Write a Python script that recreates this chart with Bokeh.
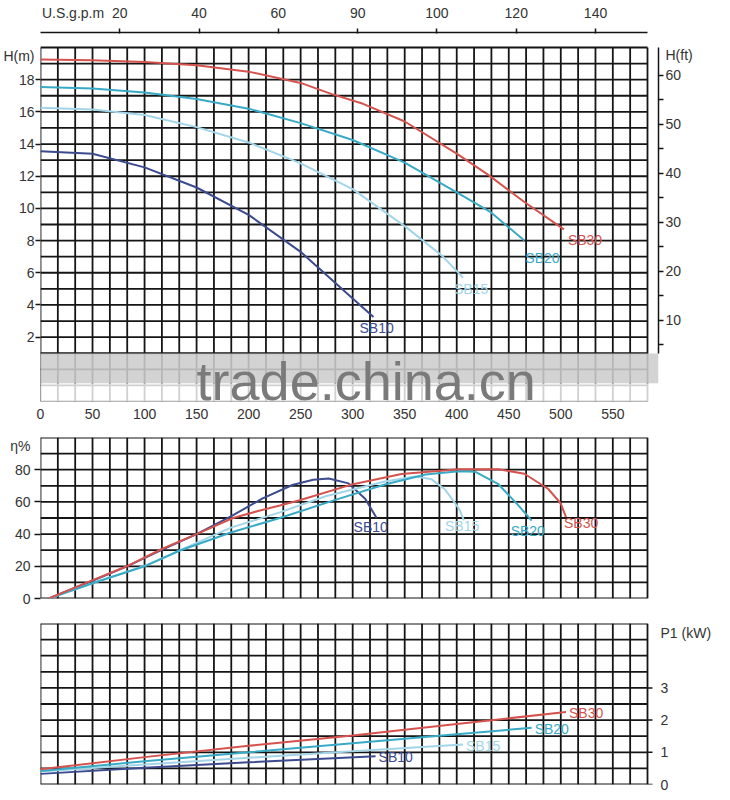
from bokeh.core.properties import value
from bokeh.embed import file_html
from bokeh.layouts import column
from bokeh.models import FixedTicker, Label, LinearAxis, Range1d
from bokeh.plotting import figure
from bokeh.resources import INLINE

FONT = "Liberation Sans"
GRID = "#151515"
TEXT = "#333333"

models = ["SB10", "SB15", "SB20", "SB30"]
colors = ["#3c4a8e", "#a3d5e9", "#38aac6", "#d4534e"]

# head H (m) against flow Q (l/min)
sb10_h_q = [0, 50, 100, 150, 200, 250, 300, 320]
sb10_h = [13.55, 13.4, 12.55, 11.3, 9.6, 7.3, 4.4, 3.25]
sb15_h_q = [0, 50, 100, 150, 200, 250, 300, 350, 386, 406]
sb15_h = [16.25, 16.15, 15.8, 15.05, 14.1, 12.8, 11.2, 8.9, 7.05, 5.7]
sb20_h_q = [0, 50, 100, 150, 200, 250, 300, 350, 400, 433, 465]
sb20_h = [17.55, 17.45, 17.2, 16.8, 16.2, 15.3, 14.25, 12.85, 11.0, 9.75, 8.0]
sb30_h_q = [0, 50, 100, 150, 200, 250, 280, 310, 350, 400, 430, 465, 503]
sb30_h = [19.25, 19.2, 19.1, 18.9, 18.5, 17.8, 17.1, 16.5, 15.4, 13.4, 12.1, 10.4, 8.7]

# efficiency (%)
sb10_eff_q = [8, 50, 83, 116, 150, 183, 213, 242, 262, 277, 296, 312, 323]
sb10_eff = [0, 11, 20, 30, 40, 51, 62, 70.5, 73.8, 74.5, 71.5, 62, 50]
sb15_eff_q = [8, 50, 99, 150, 183, 230, 274, 331, 360, 376, 389, 402, 407]
sb15_eff = [0, 9.5, 20, 34.6, 44, 53.5, 63.5, 72.7, 75.8, 74, 67.5, 56, 48.5]
sb20_eff_q = [8, 50, 100, 134, 183, 230, 284, 331, 370, 402, 418, 440, 459, 472]
sb20_eff = [0, 9.5, 20, 29.8, 41, 50, 61.4, 70.8, 77, 79, 78.7, 71, 58, 48.4]
sb30_eff_q = [8, 45, 83, 116, 150, 185, 210, 230, 249, 298, 347, 402, 440, 465, 488, 500, 505]
sb30_eff = [0, 10, 20, 30.6, 40, 50, 54.5, 57.8, 61, 70.6, 77.3, 80.3, 80.3, 77.5, 68, 59, 50.5]

# input power P1 (kW)
sb10_p_q = [0, 100, 200, 322]
sb10_p = [0.33, 0.52, 0.69, 0.88]
sb15_p_q = [0, 100, 200, 300, 406]
sb15_p = [0.4, 0.62, 0.83, 1.03, 1.24]
sb20_p_q = [0, 100, 200, 300, 400, 472]
sb20_p = [0.42, 0.72, 1.0, 1.28, 1.56, 1.76]
sb30_p_q = [0, 100, 200, 300, 400, 505]
sb30_p = [0.47, 0.85, 1.2, 1.52, 1.88, 2.25]

q_ticks = [0, 50, 100, 150, 200, 250, 300, 350, 400, 450, 500, 550]
gpm_ticks = [20, 40, 60, 80, 100, 120, 140]
gpm_labels = {80: "90"}
h_ticks = [2, 4, 6, 8, 10, 12, 14, 16, 18]
ft_ticks = [10, 20, 30, 40, 50, 60]
ft_minor = [5, 10, 15, 20, 25, 30, 35, 40, 45, 50, 55, 60]
eff_ticks = [0, 20, 40, 60, 80]
p_ticks = [0, 1, 2, 3]

# unit captions, written as labels on their axes
gpm_title, gpm_title_at = "U.S.g.p.m", 8.2
h_title, h_title_at = "H(m)", 19.5
ft_title, ft_title_at = "H(ft)", 64.0
eff_title, eff_title_at = "η%", 95
p_title, p_title_at = "P1 (kW)", 4.7

LPM_PER_GPM = 3.81
FT_PER_M = 3.281
Q_STEP = 50 / 3
Q_CELLS = 35
Q_END = Q_STEP * Q_CELLS
GRID_W = 607
FRAME_W = 618
X_END = Q_END * FRAME_W / GRID_W
PX = Q_END / GRID_W  # l/min per pixel

head = [(sb10_h_q, sb10_h), (sb15_h_q, sb15_h), (sb20_h_q, sb20_h), (sb30_h_q, sb30_h)]
eff = [(sb10_eff_q, sb10_eff), (sb15_eff_q, sb15_eff), (sb20_eff_q, sb20_eff), (sb30_eff_q, sb30_eff)]
power = [(sb10_p_q, sb10_p), (sb15_p_q, sb15_p), (sb20_p_q, sb20_p), (sb30_p_q, sb30_p)]


def make_fig(height, y0, y1, top, bottom, **kw):
    p = figure(width=730, height=height, x_range=Range1d(0, X_END), y_range=Range1d(y0, y1),
               output_backend="svg", toolbar_location=None,
               min_border_left=40, min_border_right=72,
               min_border_top=top, min_border_bottom=bottom, **kw)
    p.outline_line_color = None
    p.grid.visible = False
    p.background_fill_color = "white"
    p.border_fill_color = "white"
    return p


def draw_grid(p, ylines):
    xs = [i * Q_STEP for i in range(Q_CELLS + 1)]
    p.segment(x0=xs, y0=[ylines[0]] * len(xs), x1=xs, y1=[ylines[-1]] * len(xs),
              line_color=GRID, line_width=1.8)
    p.segment(x0=[0] * len(ylines), y0=ylines, x1=[Q_END] * len(ylines), y1=ylines,
              line_color=GRID, line_width=1.8)


def style_axis(ax, labels_at, marks_at, mark_out, standoff, overrides=None, mark_in=0):
    # labels sit on major ticks (no marks); the visible marks are minor ticks
    ax.ticker = FixedTicker(ticks=labels_at, minor_ticks=marks_at)
    ax.major_label_text_font = FONT
    ax.major_label_text_font_size = "14px"
    ax.major_label_text_color = TEXT
    ax.major_tick_out = 0
    ax.major_tick_in = 0
    ax.minor_tick_out = mark_out
    ax.minor_tick_in = mark_in
    ax.minor_tick_line_color = GRID
    ax.minor_tick_line_width = 1.5
    ax.major_label_standoff = standoff
    ax.axis_line_color = None
    if overrides:
        ax.major_label_overrides = overrides


def curve_labels(p, series, offsets):
    for name, color, (qs, vs), (dx, dy) in zip(models, colors, series, offsets):
        p.text(x=[qs[-1]], y=[vs[-1]], text=[name], x_offset=dx, y_offset=dy,
               text_font=value(FONT), text_font_size="14px", text_color=color,
               text_baseline="middle", text_align="left")


# ---- head panel
m_per_px = 22 / 354
h_top = 20 + 15 * m_per_px

p1 = make_fig(428, -2, h_top, 32, 27)
p1.extra_x_ranges = {"gpm": Range1d(0, X_END / LPM_PER_GPM)}
p1.extra_y_ranges = {"ft": Range1d(-2 * FT_PER_M, h_top * FT_PER_M)}

draw_grid(p1, list(range(-2, 21)))
for (qs, hs), color in zip(head, colors):
    p1.line(qs, hs, line_color=color, line_width=2)
curve_labels(p1, head, [(-14, 11), (-9, 11), (1, 17), (4, 11)])

# watermark band
p1.quad(left=0, right=X_END, bottom=-0.88, top=0.98, fill_color="#cdcdcd", fill_alpha=0.88, line_color=None)
p1.quad(left=0, right=X_END, bottom=-2.2, top=-0.88, fill_color="white", fill_alpha=0.8, line_color=None)
p1.add_layout(Label(x=313, y=-0.7, text="trade.china.cn", text_font=FONT, text_font_size="54px",
                    text_color="#7a7a7a", text_align="center", text_baseline="middle"))

style_axis(p1.xaxis[0], q_ticks, [], 0, 7)
style_axis(p1.yaxis[0], h_ticks + [h_title_at], h_ticks, 5, 1, {h_title_at: h_title})

gpm_axis = LinearAxis(x_range_name="gpm")
style_axis(gpm_axis, gpm_ticks + [gpm_title_at], gpm_ticks, 4, 8,
           {**gpm_labels, gpm_title_at: gpm_title}, mark_in=1)
gpm_axis.axis_line_color = GRID
gpm_axis.axis_line_width = 1.5
gpm_axis.bounds = (0, Q_END / LPM_PER_GPM)
p1.add_layout(gpm_axis, "above")

ft_axis = LinearAxis(y_range_name="ft")
style_axis(ft_axis, ft_ticks + [ft_title_at], ft_minor, 5, 2, {ft_title_at: ft_title})
ft_axis.axis_line_color = GRID
ft_axis.axis_line_width = 1.5
ft_axis.bounds = (0.98 * FT_PER_M, 20 * FT_PER_M)
p1.add_layout(ft_axis, "right")

# ---- efficiency panel
p2 = make_fig(180, 0, 100, 9, 10, x_axis_location=None)
draw_grid(p2, list(range(0, 101, 10)))
for (qs, es), color in zip(eff, colors):
    p2.line(qs, es, line_color=color, line_width=2)
curve_labels(p2, eff, [(-23, 9), (-19, 6), (-21, 10), (-2, 6)])
style_axis(p2.yaxis[0], eff_ticks + [eff_title_at], eff_ticks, 6, 4, {eff_title_at: eff_title})

# ---- power panel
p3 = make_fig(192, 0, 5, 15, 16, x_axis_location=None, y_axis_location="right")
draw_grid(p3, [i * 0.5 for i in range(11)])
# short marks on the kW ticks, continuing the grid lines out to the right
p3.segment(x0=[Q_END] * len(p_ticks), y0=p_ticks, x1=[Q_END + 5 * PX] * len(p_ticks), y1=p_ticks,
           line_color=GRID, line_width=1.5)
for (qs, ps), color in zip(power, colors):
    p3.line(qs, ps, line_color=color, line_width=2)
curve_labels(p3, power, [(3, 1), (3, 1), (3, 1), (3, 1)])
style_axis(p3.yaxis[0], p_ticks + [p_title_at], [], 0, 2, {p_title_at: p_title})

layout = column(p1, p2, p3)
open("out.html", "w").write(file_html(layout, INLINE))
